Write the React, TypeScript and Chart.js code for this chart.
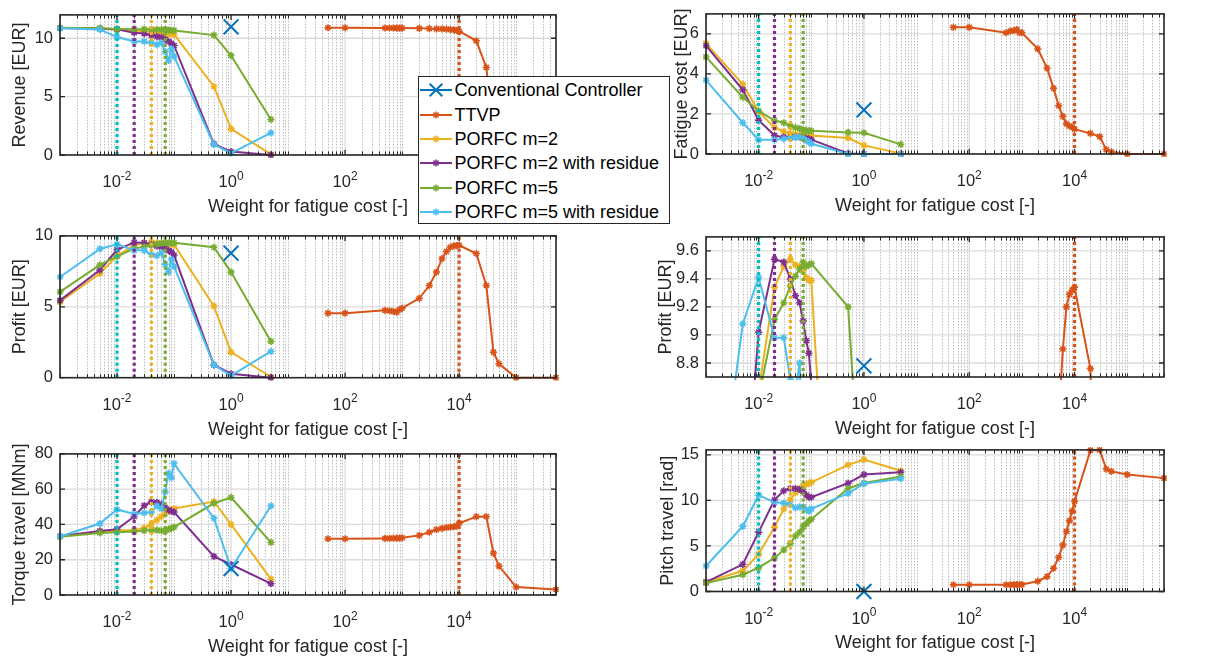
import React, { useEffect, useRef } from 'react';
import { Chart, registerables } from 'chart.js';

Chart.register(...registerables);

const FONT = '"Liberation Sans", Arial, Helvetica, sans-serif';
const AXIS_COLOR = '#262626';

// ---------------- data ----------------
const porfcWeights = [0.001, 0.005, 0.01, 0.02, 0.03, 0.04, 0.05, 0.06, 0.07, 0.08, 0.09, 0.1, 0.5, 1, 5];
const ttvpWeights = [50, 100, 500, 600, 700, 800, 900, 1000, 2000, 3000, 4000, 5000, 6000, 7000, 8000, 9000, 10000, 20000, 30000, 40000, 50000, 100000, 500000];
const conventionalWeight = [1];
const optimalWeights = [0.01, 0.02, 0.04, 0.07, 10000];
const xTickExponents = [-2, 0, 2, 4];
const xRange = [0.001, 500000];

const seriesNames = ['Conventional Controller', 'TTVP', 'PORFC m=2', 'PORFC m=2 with residue', 'PORFC m=5', 'PORFC m=5 with residue'];

// Revenue [EUR]
const revenueConv = [10.98];
const revenueTTVP = [10.9, 10.9, 10.88, 10.88, 10.88, 10.87, 10.87, 10.87, 10.85, 10.83, 10.8, 10.8, 10.78, 10.75, 10.72, 10.68, 10.6, 9.78, 7.5, 2.03, 1.1, 0, 0];
const revenueM2 = [10.88, 10.84, 10.74, 10.66, 10.61, 10.57, 10.5, 10.44, 10.41, 10.36, 10.34, 10.33, 5.87, 2.24, 0.06];
const revenueM2R = [10.87, 10.83, 10.76, 10.48, 10.4, 10.25, 10.14, 10.08, 9.9, 9.72, 9.57, 9.38, 0.95, 0.29, 0.01];
const revenueM5 = [10.9, 10.85, 10.8, 10.78, 10.78, 10.75, 10.74, 10.74, 10.72, 10.7, 10.68, 10.67, 10.27, 8.52, 3.04];
const revenueM5R = [10.85, 10.75, 10.1, 9.73, 9.73, 9.6, 9.45, 9.6, 8.85, 8.1, 9.1, 8.45, 0.9, 0.15, 1.9];

// Fatigue cost [EUR]
const fatigueConv = [2.2];
const fatigueTTVP = [6.33, 6.33, 6.06, 6.14, 6.17, 6.22, 6.06, 6.06, 5.25, 4.29, 3.28, 2.41, 1.88, 1.51, 1.4, 1.35, 1.24, 1.03, 0.87, 0.22, 0.11, 0, 0];
const fatigueM2 = [5.53, 3.48, 2.12, 1.32, 1.12, 1.03, 1.0, 0.96, 0.95, 0.94, 0.93, 0.92, 0.8, 0.43, 0.03];
const fatigueM2R = [5.41, 3.21, 1.69, 0.92, 0.84, 0.84, 0.84, 0.84, 0.83, 0.8, 0.75, 0.72, 0.03, 0, 0];
const fatigueM5 = [4.85, 2.84, 2.15, 1.67, 1.56, 1.4, 1.32, 1.27, 1.2, 1.19, 1.16, 1.16, 1.08, 1.06, 0.48];
const fatigueM5R = [3.69, 1.56, 0.71, 0.71, 0.76, 0.8, 0.84, 0.84, 0.8, 0.67, 0.6, 0.51, 0, 0, 0];

// Profit [EUR]
const profitConv = [8.78];
const profitTTVP = [4.55, 4.55, 4.75, 4.72, 4.68, 4.62, 4.8, 4.9, 5.6, 6.5, 7.45, 8.4, 8.9, 9.2, 9.29, 9.32, 9.34, 8.76, 6.5, 1.8, 0.98, 0, 0];
const profitM2 = [5.35, 7.35, 8.6, 9.34, 9.49, 9.54, 9.5, 9.49, 9.46, 9.41, 9.39, 9.39, 5.05, 1.8, 0.05];
const profitM2R = [5.45, 7.6, 9.02, 9.54, 9.52, 9.4, 9.28, 9.23, 9.1, 8.96, 8.87, 8.65, 0.9, 0.28, 0];
const profitM5 = [6.05, 7.95, 8.55, 9.11, 9.23, 9.35, 9.42, 9.47, 9.52, 9.49, 9.5, 9.51, 9.2, 7.45, 2.56];
const profitM5R = [7.1, 9.08, 9.41, 8.98, 8.98, 8.68, 8.6, 8.8, 8.0, 7.45, 8.35, 7.85, 0.9, 0.15, 1.85];

// Torque travel [MNm]
const torqueConv = [15];
const torqueTTVP = [31.9, 31.9, 32.1, 32.1, 32.2, 32.2, 32.3, 32.4, 33.8, 35.6, 37.1, 37.8, 38.2, 38.5, 38.7, 39.1, 40.7, 44.4, 44.5, 23.7, 16.4, 4.5, 3.1];
const torqueM2 = [33.2, 36, 36.5, 36.8, 38, 40.3, 42.5, 44.5, 46.3, 47.5, 48.3, 49, 53, 40, 9];
const torqueM2R = [33.3, 36.3, 37.3, 44.5, 50.7, 52.8, 52.5, 51.5, 49.5, 48.2, 47.5, 47, 21.9, 17.3, 6.4];
const torqueM5 = [33, 35.2, 35.6, 36, 36.5, 36.8, 36.8, 36.5, 36.3, 37.3, 37.8, 38.5, 52, 55.3, 29.8];
const torqueM5R = [33.2, 40.5, 48.5, 46, 46.5, 47, 50.5, 49, 58.5, 69, 66.5, 74.5, 43.5, 15, 50.5];

// Pitch travel [rad]
const pitchConv = [0];
const pitchTTVP = [0.74, 0.74, 0.74, 0.74, 0.75, 0.75, 0.76, 0.77, 1.13, 1.63, 2.55, 3.76, 5.1, 6.6, 7.77, 8.83, 9.9, 15.5, 15.55, 13.44, 13.19, 12.84, 12.45];
const pitchM2 = [1.03, 2.27, 4.11, 7.06, 9.08, 10.07, 10.85, 11.3, 11.56, 11.77, 11.9, 11.99, 13.9, 14.5, 13.26];
const pitchM2R = [1.03, 2.98, 6.52, 10.07, 11.06, 11.31, 11.31, 11.2, 10.96, 10.6, 10.35, 10.35, 11.9, 12.84, 13.09];
const pitchM5 = [0.92, 1.84, 2.62, 3.69, 4.57, 5.28, 6.1, 6.52, 7.13, 7.41, 7.77, 7.94, 11.31, 11.91, 12.62];
const pitchM5R = [2.8, 7.16, 10.6, 9.79, 9.72, 9.54, 9.18, 9.29, 9.29, 9.0, 8.83, 9.08, 10.78, 11.84, 12.38];

// y-axis ticks
const revenueTicks = [0, 5, 10];
const profitTicks = [0, 5, 10];
const torqueTicks = [0, 20, 40, 60, 80];
const fatigueTicks = [0, 2, 4, 6];
const profitZoomTicks = [8.8, 9, 9.2, 9.4, 9.6];
const pitchTicks = [0, 5, 10, 15];

// ---------------- styles ----------------
const C_CONV = '#0072BD';
const C_TTVP = '#D95319';
const C_M2 = '#EDB120';
const C_M2R = '#7E2F8E';
const C_M5 = '#77AC30';
const C_M5R = '#4DBEEE';
const seriesColors = [C_CONV, C_TTVP, C_M2, C_M2R, C_M5, C_M5R];
const optimalColors = ['#00BFBF', '#7E2F8E', '#EDB120', '#77AC30', '#D95319'];

const TICK_FONT = 16.5;
const TITLE_FONT = 18;
const TITLE_LH = TITLE_FONT * 1.2;
const PAD_T = 12;
const PAD_R = 16;
const X_TITLE_MID = 52;
const X_LABEL_BASE = 32;

type PanelSpec = {
  key: string;
  yLabel: string;
  conv: number[];
  series: number[][]; // TTVP, m2, m2r, m5, m5r
  yRange: number[];
  yTicks: number[];
  area: { l: number; t: number; r: number; b: number };
  yTitleX: number;
};

const panels: PanelSpec[] = [
  { key: 'rev', yLabel: 'Revenue [EUR]', conv: revenueConv, series: [revenueTTVP, revenueM2, revenueM2R, revenueM5, revenueM5R], yRange: [0, 12], yTicks: revenueTicks, area: { l: 60, t: 10, r: 556, b: 155 }, yTitleX: 20 },
  { key: 'fat', yLabel: 'Fatigue cost [EUR]', conv: fatigueConv, series: [fatigueTTVP, fatigueM2, fatigueM2R, fatigueM5, fatigueM5R], yRange: [0, 7], yTicks: fatigueTicks, area: { l: 706, t: 9, r: 1164, b: 154 }, yTitleX: 682 },
  { key: 'pro', yLabel: 'Profit [EUR]', conv: profitConv, series: [profitTTVP, profitM2, profitM2R, profitM5, profitM5R], yRange: [0, 10], yTicks: profitTicks, area: { l: 60, t: 231, r: 556, b: 377.7 }, yTitleX: 20 },
  { key: 'proz', yLabel: 'Profit [EUR]', conv: profitConv, series: [profitTTVP, profitM2, profitM2R, profitM5, profitM5R], yRange: [8.7, 9.7], yTicks: profitZoomTicks, area: { l: 706, t: 231.7, r: 1164, b: 377 }, yTitleX: 666 },
  { key: 'tor', yLabel: 'Torque travel [MNm]', conv: torqueConv, series: [torqueTTVP, torqueM2, torqueM2R, torqueM5, torqueM5R], yRange: [0, 80], yTicks: torqueTicks, area: { l: 60, t: 449, r: 556, b: 595 }, yTitleX: 20 },
  { key: 'pit', yLabel: 'Pitch travel [rad]', conv: pitchConv, series: [pitchTTVP, pitchM2, pitchM2R, pitchM5, pitchM5R], yRange: [0, 15.55], yTicks: pitchTicks, area: { l: 706, t: 445, r: 1164, b: 591.5 }, yTitleX: 668 },
];

function minorXValues(): number[] {
  const out: number[] = [];
  const n0 = Math.floor(Math.log10(xRange[0]));
  const n1 = Math.floor(Math.log10(xRange[1]));
  for (let n = n0; n <= n1; n++) {
    for (let k = 1; k <= 9; k++) {
      const v = k * Math.pow(10, n);
      if (v < xRange[0] * 0.999 || v > xRange[1] * 1.001) continue;
      if (k === 1 && xTickExponents.includes(n)) continue;
      out.push(v);
    }
  }
  return out;
}

function axesPlugin(p: PanelSpec) {
  return {
    id: 'matlabAxes_' + p.key,
    beforeDatasetsDraw(chart: any) {
      const { ctx, chartArea: a } = chart;
      const xs = chart.scales.x;
      const ys = chart.scales.y;
      ctx.save();
      ctx.beginPath();
      ctx.rect(a.left, a.top, a.right - a.left, a.bottom - a.top);
      ctx.clip();
      ctx.strokeStyle = '#bdbdbd';
      ctx.lineWidth = 1;
      ctx.setLineDash([1.5, 1.5]);
      ctx.beginPath();
      for (const v of minorXValues()) {
        const px = Math.round(xs.getPixelForValue(v)) + 0.5;
        ctx.moveTo(px, a.top);
        ctx.lineTo(px, a.bottom);
      }
      ctx.stroke();
      ctx.setLineDash([]);
      ctx.strokeStyle = '#dcdcdc';
      ctx.lineWidth = 1.3;
      ctx.beginPath();
      for (const e of xTickExponents) {
        const px = xs.getPixelForValue(Math.pow(10, e));
        ctx.moveTo(px, a.top);
        ctx.lineTo(px, a.bottom);
      }
      for (const v of p.yTicks) {
        const py = ys.getPixelForValue(v);
        ctx.moveTo(a.left, py);
        ctx.lineTo(a.right, py);
      }
      ctx.stroke();
      ctx.restore();
    },
    afterDraw(chart: any) {
      const { ctx, chartArea: a } = chart;
      const xs = chart.scales.x;
      const ys = chart.scales.y;
      ctx.save();
      ctx.strokeStyle = AXIS_COLOR;
      ctx.lineWidth = 1.6;
      ctx.setLineDash([]);
      ctx.strokeRect(a.left, a.top, a.right - a.left, a.bottom - a.top);
      ctx.lineWidth = 1;
      ctx.beginPath();
      for (const v of minorXValues()) {
        const px = Math.round(xs.getPixelForValue(v)) + 0.5;
        ctx.moveTo(px, a.bottom);
        ctx.lineTo(px, a.bottom - 3.5);
        ctx.moveTo(px, a.top);
        ctx.lineTo(px, a.top + 3.5);
      }
      ctx.stroke();
      ctx.lineWidth = 1.3;
      ctx.beginPath();
      for (const e of xTickExponents) {
        const px = xs.getPixelForValue(Math.pow(10, e));
        ctx.moveTo(px, a.bottom);
        ctx.lineTo(px, a.bottom - 5);
        ctx.moveTo(px, a.top);
        ctx.lineTo(px, a.top + 5);
      }
      for (const v of p.yTicks) {
        const py = ys.getPixelForValue(v);
        ctx.moveTo(a.left, py);
        ctx.lineTo(a.left + 5, py);
        ctx.moveTo(a.right, py);
        ctx.lineTo(a.right - 5, py);
      }
      ctx.stroke();
      // x tick labels 10^n
      ctx.fillStyle = AXIS_COLOR;
      ctx.textBaseline = 'alphabetic';
      ctx.textAlign = 'left';
      for (const e of xTickExponents) {
        const px = xs.getPixelForValue(Math.pow(10, e));
        const expStr = String(e);
        ctx.font = `${TICK_FONT}px ${FONT}`;
        const wb = ctx.measureText('10').width;
        ctx.font = `12px ${FONT}`;
        const we = ctx.measureText(expStr).width;
        const x0 = px - (wb + we) / 2;
        ctx.font = `${TICK_FONT}px ${FONT}`;
        ctx.fillText('10', x0, a.bottom + X_LABEL_BASE);
        ctx.font = `12px ${FONT}`;
        ctx.fillText(expStr, x0 + wb, a.bottom + X_LABEL_BASE - 7.5);
      }
      ctx.restore();
    },
  };
}

function buildConfig(p: PanelSpec, yAxisW: number, xAxisH: number): any {
  const [yMin, yMax] = p.yRange;
  const lineDs = (label: string, xs: number[], ys: number[], color: string, order: number) => ({
    label,
    data: xs.map((x, i) => ({ x, y: ys[i] })),
    borderColor: color,
    backgroundColor: color,
    borderWidth: 2,
    pointStyle: 'star',
    pointRadius: 3.6,
    pointBorderWidth: 1.5,
    pointHoverRadius: 3.6,
    tension: 0,
    order,
    clip: 3,
  });
  const datasets: any[] = [
    {
      label: seriesNames[0],
      data: conventionalWeight.map((x, i) => ({ x, y: p.conv[i] })),
      showLine: false,
      borderColor: C_CONV,
      backgroundColor: C_CONV,
      pointStyle: 'crossRot',
      pointRadius: 10.5,
      pointHoverRadius: 10.5,
      pointBorderWidth: 2,
      clip: false,
      order: 0,
    },
    ...optimalWeights.map((w, i) => ({
      label: 'optimum ' + i,
      data: [{ x: w, y: yMin }, { x: w, y: yMax }],
      borderColor: optimalColors[i],
      borderWidth: 3.2,
      borderDash: [3, 3],
      pointRadius: 0,
      pointHoverRadius: 0,
      order: 1,
    })),
    lineDs(seriesNames[5], porfcWeights, p.series[4], C_M5R, 2),
    lineDs(seriesNames[4], porfcWeights, p.series[3], C_M5, 3),
    lineDs(seriesNames[3], porfcWeights, p.series[2], C_M2R, 4),
    lineDs(seriesNames[2], porfcWeights, p.series[1], C_M2, 5),
    lineDs(seriesNames[1], ttvpWeights, p.series[0], C_TTVP, 6),
  ];
  return {
    type: 'line',
    data: { datasets },
    plugins: [axesPlugin(p)],
    options: {
      animation: false,
      responsive: false,
      maintainAspectRatio: false,
      events: [],
      layout: { padding: { top: PAD_T, right: PAD_R, left: 0, bottom: 0 } },
      plugins: { legend: { display: false }, tooltip: { enabled: false } },
      scales: {
        x: {
          type: 'logarithmic',
          min: xRange[0],
          max: xRange[1],
          grid: { display: false },
          border: { display: false },
          ticks: { display: false },
          title: { display: true, text: 'Weight for fatigue cost [-]', color: AXIS_COLOR, padding: 0, font: { size: TITLE_FONT, family: FONT } },
          afterFit: (s: any) => { s.height = xAxisH; },
        },
        y: {
          type: 'linear',
          min: yMin,
          max: yMax,
          grid: { display: false, drawTicks: false },
          border: { display: false },
          ticks: { color: AXIS_COLOR, padding: 7, font: { size: TICK_FONT, family: FONT }, callback: (v: any) => String(Math.round(Number(v) * 100) / 100) },
          afterBuildTicks: (s: any) => { s.ticks = p.yTicks.map((v) => ({ value: v })); },
          title: { display: true, text: p.yLabel, color: AXIS_COLOR, padding: 0, font: { size: TITLE_FONT, family: FONT } },
          afterFit: (s: any) => { s.width = yAxisW; },
        },
      },
    },
  };
}

function Panel({ p }: { p: PanelSpec }) {
  const ref = useRef<HTMLCanvasElement | null>(null);
  const { l, t, r, b } = p.area;
  const left = Math.round(p.yTitleX - TITLE_LH / 2);
  const top = Math.round(t - PAD_T);
  const xAxisH = X_TITLE_MID + TITLE_LH / 2;
  const width = Math.round(r - left + PAD_R);
  const height = Math.round(b + xAxisH - top);
  const yAxisW = l - left;
  const realXAxisH = top + height - b;
  useEffect(() => {
    const chart = new Chart(ref.current as HTMLCanvasElement, buildConfig(p, yAxisW, realXAxisH));
    return () => chart.destroy();
  }, []);
  return (
    <canvas
      ref={ref}
      width={width}
      height={height}
      style={{ position: 'absolute', left, top, width, height }}
    />
  );
}

function Marker({ kind, color, cx, cy }: { kind: string; color: string; cx: number; cy: number }) {
  if (kind === 'x') {
    const d = 6.3;
    return (
      <g stroke={color} strokeWidth={2}>
        <line x1={cx - d} y1={cy - d} x2={cx + d} y2={cy + d} />
        <line x1={cx - d} y1={cy + d} x2={cx + d} y2={cy - d} />
      </g>
    );
  }
  const r = 3.6;
  const d = r * 0.707;
  return (
    <g stroke={color} strokeWidth={1.5}>
      <line x1={cx - r} y1={cy} x2={cx + r} y2={cy} />
      <line x1={cx} y1={cy - r} x2={cx} y2={cy + r} />
      <line x1={cx - d} y1={cy - d} x2={cx + d} y2={cy + d} />
      <line x1={cx - d} y1={cy + d} x2={cx + d} y2={cy - d} />
    </g>
  );
}

function Legend() {
  const box = { left: 418, top: 76, width: 252, height: 148 };
  const rowH = 24.3;
  const first = 13.3;
  return (
    <div
      style={{
        position: 'absolute',
        left: box.left,
        top: box.top,
        width: box.width,
        height: box.height,
        boxSizing: 'border-box',
        border: '1.4px solid #262626',
        background: '#ffffff',
        zIndex: 10,
        fontFamily: FONT,
        fontSize: TITLE_FONT,
        color: '#000',
      }}
    >
      {seriesNames.map((name, i) => {
        const cy = first + i * rowH;
        return (
          <div key={name} style={{ position: 'absolute', left: 0, top: cy - 11, height: 22, width: '100%' }}>
            <svg width={36} height={22} style={{ position: 'absolute', left: 0, top: 0 }}>
              <line x1={1} y1={11} x2={33} y2={11} stroke={seriesColors[i]} strokeWidth={2} />
              <Marker kind={i === 0 ? 'x' : 'star'} color={seriesColors[i]} cx={17} cy={11} />
            </svg>
            <span style={{ position: 'absolute', left: 35.5, top: 0, lineHeight: '22px', whiteSpace: 'nowrap' }}>{name}</span>
          </div>
        );
      })}
    </div>
  );
}

export default function App() {
  return (
    <div style={{ position: 'absolute', left: 0, top: 0, width: 1208, height: 657, background: '#fff', overflow: 'hidden' }}>
      {panels.map((p) => (
        <Panel key={p.key} p={p} />
      ))}
      <Legend />
    </div>
  );
}
